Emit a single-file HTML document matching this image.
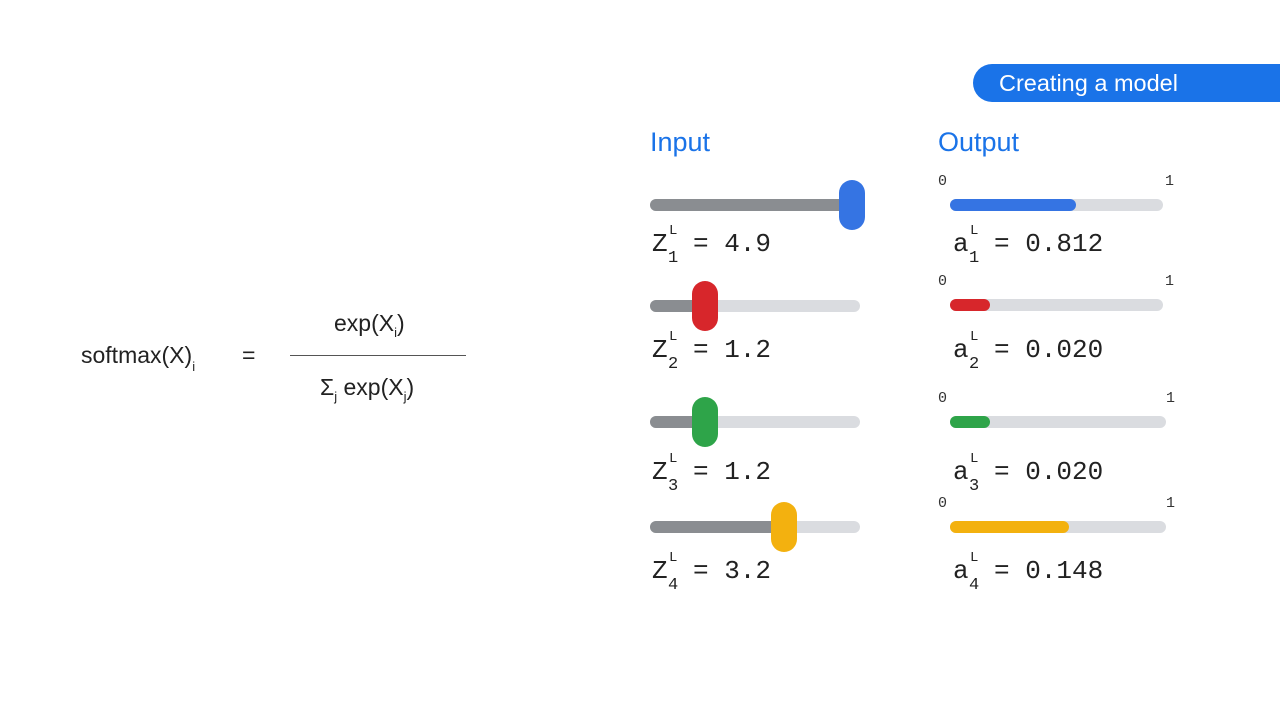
<!DOCTYPE html>
<html><head><meta charset="utf-8">
<style>
body{margin:0;width:1280px;height:720px;background:#fff;position:relative;overflow:hidden;font-family:"Liberation Sans",sans-serif;}
.a{position:absolute;}
.pill{left:973px;top:64px;width:330px;height:38px;background:#1a73e8;border-radius:19px;color:#fff;font-size:23.5px;line-height:38px;padding-left:26px;box-sizing:border-box;}
.hd{color:#1a73e8;font-size:27px;top:127px;}
.f{font-size:23px;color:#222;}
.lbl{font-family:"Liberation Mono",monospace;font-size:26px;color:#222;white-space:nowrap;}
.lbl .b{display:inline-block;position:relative;width:41px;}
.lbl .sp{position:absolute;font-size:14px;left:17px;top:-6px;}
.lbl .sb{position:absolute;font-size:17px;left:16px;top:20px;}
.tick{font-family:"Liberation Mono",monospace;font-size:15px;color:#333;}
</style></head><body>
<div class="a pill">Creating a model</div>
<div class="a hd" style="left:650px">Input</div>
<div class="a hd" style="left:938px">Output</div>

<div class="a f" style="left:81px;top:342px">softmax(X)<sub style="font-size:13px;vertical-align:-8px">i</sub></div>
<div class="a f" style="left:242px;top:342px">=</div>
<div class="a f" style="left:334px;top:310px">exp(X<sub style="font-size:13px;vertical-align:-6px">i</sub>)</div>
<div class="a" style="left:290px;top:355px;width:176px;height:1px;background:#555"></div>
<div class="a f" style="left:320px;top:374px">Σ<sub style="font-size:13px;vertical-align:-6px">j</sub> exp(X<sub style="font-size:13px;vertical-align:-6px">j</sub>)</div>

<div id="root"></div>
<script>
const inputValues=[4.9,1.2,1.2,3.2];
const outputValues=[0.812,0.020,0.020,0.148];
const outputBarFill=[0.59,0.19,0.19,0.56];
const inputLabels=["4.9","1.2","1.2","3.2"];
const outputLabels=["0.812","0.020","0.020","0.148"];
const colors=["#3574e3","#d7262b","#2ea449","#f3b10f"];
const rowY=[205,306,422,527];
const labelY=[246,352,474,573];
const xIn=v=>658+39.5*v;
const xOut=f=>950+213*f;
const root=document.getElementById('root');
function mk(style,html){const d=document.createElement('div');d.className='a';d.style.cssText=style;if(html)d.innerHTML=html;root.appendChild(d);return d;}
inputValues.forEach((v,i)=>{
  const y=rowY[i],hx=xIn(v);
  let t=mk(`left:650px;top:${y-6}px;width:210px;height:12px;border-radius:6px;background:#dadce0`);
  
  
  let f=mk(`left:650px;top:${y-6}px;width:${hx-650}px;height:12px;border-radius:6px;background:#8a8d91`);
  
  
  let h=mk(`left:${hx-13}px;top:${y-25}px;width:26px;height:50px;border-radius:13px;background:${colors[i]}`);
  
  
  let l=mk(`left:652px;top:${labelY[i]-17}px`,`<span class="b">Z<span class="sp">L</span><span class="sb">${i+1}</span></span>= ${inputLabels[i]}`);
  l.classList.add('lbl');
  
  
});
outputValues.forEach((v,i)=>{
  const y=rowY[i]-(i===1?1:0);
  let t=mk(`left:950px;top:${y-6}px;width:${i<2?213:216}px;height:12px;border-radius:6px;background:#dadce0`);
  
  
  let f=mk(`left:950px;top:${y-6}px;width:${xOut(outputBarFill[i])-950}px;height:12px;border-radius:6px;background:${colors[i]}`);
  
  
  let z=mk(`left:938px;top:${y-32}px`,'0');z.classList.add('tick');
  
  
  let o=mk(`left:${i<2?1165:1166}px;top:${y-32}px`,'1');o.classList.add('tick');
  
  
  let l=mk(`left:953px;top:${labelY[i]-17}px`,`<span class="b">a<span class="sp">L</span><span class="sb">${i+1}</span></span>= ${outputLabels[i]}`);
  l.classList.add('lbl');
  
  
});
</script>
</body></html>
